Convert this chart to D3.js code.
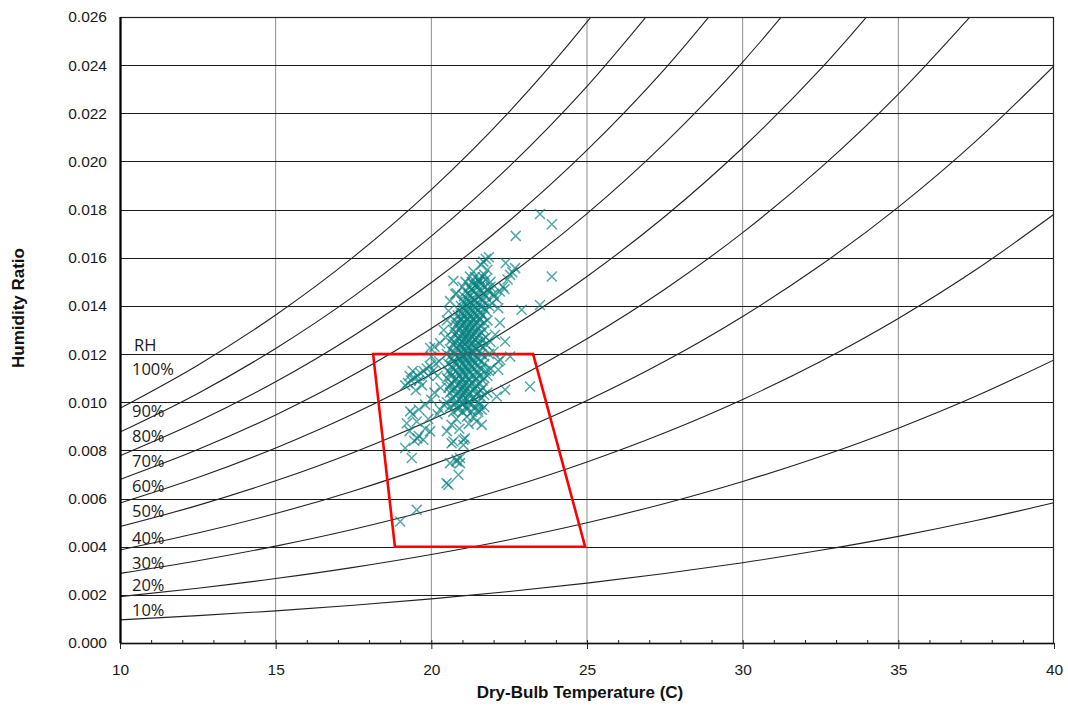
<!DOCTYPE html>
<html>
<head>
<meta charset="utf-8">
<script src="https://cdn.jsdelivr.net/npm/d3@7"></script>
<style>
  body { margin: 0; background: #fff; }
  svg { display: block; }
</style>
</head>
<body>
<svg id="chart"></svg>
<script>
// dry-bulb temperatures where the RH curves were read (C)
const tempSteps = [10, 12.5, 15, 17.5, 20, 22.5, 25, 27.5, 30, 32.5, 35, 37.5, 40]

// humidity ratio of each RH curve at tempSteps (curves stop once past the top)
const w10  = [0.000961, 0.001135, 0.001336, 0.001567, 0.001833, 0.002138, 0.002487, 0.002884, 0.003336, 0.003849, 0.004430, 0.005086, 0.005824]
const w20  = [0.001925, 0.002274, 0.002677, 0.003142, 0.003677, 0.004291, 0.004994, 0.005795, 0.006708, 0.007746, 0.008923, 0.010255, 0.011759]
const w30  = [0.002893, 0.003417, 0.004024, 0.004725, 0.005532, 0.006459, 0.007521, 0.008733, 0.010117, 0.011691, 0.013481, 0.015511, 0.017806]
const w40  = [0.003863, 0.004565, 0.005377, 0.006317, 0.007398, 0.008641, 0.010068, 0.011699, 0.013563, 0.015687, 0.018105, 0.020854, 0.023970]
const w50  = [0.004836, 0.005716, 0.006736, 0.007916, 0.009276, 0.010839, 0.012636, 0.014692, 0.017046, 0.019732, 0.022797, 0.026288]
const w60  = [0.005812, 0.006872, 0.008101, 0.009523, 0.011164, 0.013053, 0.015225, 0.017714, 0.020569, 0.023830, 0.027559]
const w70  = [0.006791, 0.008032, 0.009472, 0.011139, 0.013064, 0.015282, 0.017836, 0.020765, 0.024130, 0.027981]
const w80  = [0.007774, 0.009196, 0.010849, 0.012763, 0.014975, 0.017526, 0.020467, 0.023846, 0.027731]
const w90  = [0.008759, 0.010365, 0.012232, 0.014395, 0.016897, 0.019787, 0.023121, 0.026956]
const w100 = [0.009748, 0.011538, 0.013621, 0.016036, 0.018832, 0.022063, 0.025796, 0.030095]

const rhLabels = ["100%", "90%", "80%", "70%", "60%", "50%", "40%", "30%", "20%", "10%"]

// comfort zone corners [temp, humidity ratio]
const zoneCorners = [[18.13, 0.0120], [23.27, 0.0120], [24.94, 0.0040], [18.83, 0.0040]]

// measured readings [temp, humidity ratio]
const outerReadings = [
  [23.49,0.01782],[23.87,0.01739],[22.71,0.01691],[23.87,0.01522],[23.49,0.01404],[22.9,0.01384],
  [23.17,0.01065],[22.53,0.01529],[22.69,0.01557],[22.39,0.01578],[22.6,0.0154],[22.45,0.0151],
  [22.3,0.0148],[22.2,0.0146],[22.1,0.0143],[22.35,0.0147],[21.85,0.01602],[21.67,0.01584],
  [21.75,0.01595],[21.6,0.0157],[21.8,0.0155],[21.7,0.0153],[21.55,0.0151],[21.35,0.01543],
  [21.24,0.01522],[20.71,0.01504],[20.77,0.01449],[20.81,0.01453],[21.0,0.0148],[21.1,0.0150],
  [21.3,0.0147],[21.45,0.0149],[21.9,0.0148],[22.0,0.0145],[21.95,0.0141],[22.15,0.0139],
  [22.37,0.01252],[22.21,0.01176],[22.53,0.0119],[22.15,0.01135],[22.15,0.01169],[22.37,0.01052],
  [22.1,0.01024],[21.8,0.0111],[21.85,0.0113],[22.0,0.0121],[22.05,0.0128],[22.2,0.0133],
  [21.9,0.0125],[20.28,0.01245],[19.96,0.01225],[20.1,0.0123],[20.4,0.0130],[20.5,0.0134],
  [20.55,0.0138],[20.6,0.0142],[20.45,0.0127]
]
const leftReadings = [
  [19.16,0.0107],[19.25,0.0108],[19.35,0.0109],[19.45,0.0110],[19.3,0.0111],[19.55,0.0111],
  [19.65,0.0112],[19.75,0.0113],[19.6,0.0109],[19.85,0.0114],[19.95,0.0115],[20.05,0.0113],
  [20.15,0.0116],[20.25,0.0117],[19.9,0.0111],[19.7,0.0107],[20.0,0.0119],[19.5,0.0105],
  [20.2,0.0111],[19.4,0.0113],
  [19.32,0.00962],[19.21,0.00913],[19.53,0.0092],[19.4,0.0095],[19.6,0.0097],[19.8,0.0099],
  [20.0,0.0101],[20.1,0.0104],[20.3,0.0106],[20.28,0.00969],[20.4,0.0099],[20.2,0.0095],
  [19.9,0.0093],[19.16,0.0081],[19.37,0.00768],[19.74,0.00844],[19.96,0.00879],[19.6,0.0086],
  [19.8,0.0089],[19.3,0.0088],[19.45,0.0084],[19.55,0.0085],[20.65,0.00906],[20.71,0.00837],
  [21.03,0.00844],[20.81,0.00761],[20.92,0.00747],[21.62,0.00906],[21.62,0.00969],[21.14,0.0094],
  [21.35,0.0094],[20.65,0.0083],[21.03,0.00823],[21.08,0.0085],[20.6,0.00747],[20.81,0.00754],
  [20.92,0.00768],[20.87,0.00699],[20.55,0.00657],[20.49,0.00664],[19.53,0.00553],[19.0,0.00505],
  [20.5,0.0088],[20.9,0.0089],[21.2,0.0091],[21.45,0.0092],[20.8,0.0093],[21.5,0.0096]
]
const coreReadings = [
  [20.7,0.0096],[21.0,0.0096],[21.3,0.0096],
  [20.6,0.0098],[20.9,0.0098],[21.1,0.0098],[21.4,0.0098],[21.7,0.0098],
  [20.5,0.0100],[20.8,0.0100],[21.0,0.0100],[21.2,0.0100],[21.5,0.0100],
  [20.7,0.0102],[20.95,0.0102],[21.1,0.0102],[21.35,0.0102],[21.6,0.0102],
  [20.6,0.0104],[20.85,0.0104],[21.05,0.0104],[21.25,0.0104],[21.5,0.0104],[21.8,0.0104],
  [20.55,0.0106],[20.75,0.0106],[21.0,0.0106],[21.15,0.0106],[21.4,0.0106],[21.65,0.0106],
  [20.65,0.0108],[20.9,0.0108],[21.1,0.0108],[21.3,0.0108],[21.55,0.0108],
  [20.5,0.0110],[20.8,0.0110],[21.0,0.0110],[21.2,0.0110],[21.45,0.0110],[21.7,0.0110],
  [20.6,0.0112],[20.85,0.0112],[21.05,0.0112],[21.25,0.0112],[21.5,0.0112],
  [20.7,0.0114],[20.95,0.0114],[21.15,0.0114],[21.35,0.0114],[21.6,0.0114],[21.9,0.0114],
  [20.55,0.0116],[20.8,0.0116],[21.0,0.0116],[21.2,0.0116],[21.4,0.0116],[21.7,0.0116],
  [20.65,0.0118],[20.9,0.0118],[21.1,0.0118],[21.3,0.0118],[21.5,0.0118],
  [20.5,0.0120],[20.75,0.0120],[21.0,0.0120],[21.15,0.0120],[21.35,0.0120],[21.6,0.0120],[21.85,0.0120],
  [20.6,0.0122],[20.85,0.0122],[21.05,0.0122],[21.25,0.0122],[21.45,0.0122],
  [20.7,0.0124],[20.95,0.0124],[21.1,0.0124],[21.3,0.0124],[21.55,0.0124],[21.75,0.0124],
  [20.65,0.0126],[20.9,0.0126],[21.05,0.0126],[21.2,0.0126],[21.4,0.0126],[21.65,0.0126],
  [20.75,0.0128],[21.0,0.0128],[21.15,0.0128],[21.35,0.0128],[21.55,0.0128],
  [20.7,0.0130],[20.9,0.0130],[21.1,0.0130],[21.25,0.0130],[21.45,0.0130],[21.7,0.0130],
  [20.8,0.0132],[21.0,0.0132],[21.2,0.0132],[21.4,0.0132],[21.6,0.0132],
  [20.75,0.0134],[20.95,0.0134],[21.15,0.0134],[21.35,0.0134],[21.55,0.0134],[21.8,0.0134],
  [20.85,0.0136],[21.05,0.0136],[21.25,0.0136],[21.45,0.0136],[21.65,0.0136],
  [20.9,0.0138],[21.1,0.0138],[21.3,0.0138],[21.5,0.0138],[21.75,0.0138],
  [20.95,0.0140],[21.15,0.0140],[21.35,0.0140],[21.6,0.0140],[21.85,0.0140],
  [21.0,0.0142],[21.2,0.0142],[21.4,0.0142],[21.65,0.0142],
  [21.05,0.0144],[21.25,0.0144],[21.5,0.0144],[21.75,0.0144],[22.0,0.0144],
  [21.1,0.0146],[21.35,0.0146],[21.6,0.0146],[21.85,0.0146],
  [21.2,0.0148],[21.45,0.0148],[21.7,0.0148],
  [21.3,0.0150],[21.55,0.0150],[21.9,0.0150],
  [21.4,0.0152],[21.65,0.0152]
]
const coreReadingsB = [
  [20.85,0.0097],[21.15,0.0097],[21.5,0.0097],
  [20.75,0.0099],[21.0,0.0099],[21.25,0.0099],[21.55,0.0099],
  [20.65,0.0101],[20.9,0.0101],[21.15,0.0101],[21.4,0.0101],
  [20.8,0.0103],[21.0,0.0103],[21.2,0.0103],[21.45,0.0103],[21.7,0.0103],
  [20.7,0.0105],[20.95,0.0105],[21.1,0.0105],[21.35,0.0105],[21.6,0.0105],
  [20.6,0.0107],[20.85,0.0107],[21.05,0.0107],[21.25,0.0107],[21.45,0.0107],
  [20.75,0.0109],[21.0,0.0109],[21.2,0.0109],[21.4,0.0109],[21.65,0.0109],
  [20.65,0.0111],[20.9,0.0111],[21.1,0.0111],[21.35,0.0111],[21.55,0.0111],
  [20.55,0.0113],[20.8,0.0113],[21.0,0.0113],[21.2,0.0113],[21.45,0.0113],[21.75,0.0113],
  [20.65,0.0115],[20.9,0.0115],[21.1,0.0115],[21.3,0.0115],[21.5,0.0115],
  [20.7,0.0117],[20.95,0.0117],[21.15,0.0117],[21.35,0.0117],[21.6,0.0117],
  [20.6,0.0119],[20.85,0.0119],[21.05,0.0119],[21.25,0.0119],[21.45,0.0119],[21.7,0.0119],
  [20.7,0.0121],[20.95,0.0121],[21.1,0.0121],[21.3,0.0121],[21.55,0.0121],
  [20.8,0.0123],[21.0,0.0123],[21.2,0.0123],[21.4,0.0123],[21.65,0.0123],
  [20.75,0.0125],[21.0,0.0125],[21.15,0.0125],[21.35,0.0125],[21.5,0.0125],
  [20.85,0.0127],[21.1,0.0127],[21.3,0.0127],[21.45,0.0127],[21.75,0.0127],
  [20.8,0.0129],[21.05,0.0129],[21.2,0.0129],[21.4,0.0129],[21.6,0.0129],
  [20.9,0.0131],[21.1,0.0131],[21.3,0.0131],[21.5,0.0131],
  [20.85,0.0133],[21.05,0.0133],[21.25,0.0133],[21.45,0.0133],[21.7,0.0133],
  [20.95,0.0135],[21.15,0.0135],[21.35,0.0135],[21.55,0.0135],
  [21.0,0.0137],[21.2,0.0137],[21.4,0.0137],[21.6,0.0137],
  [21.05,0.0139],[21.25,0.0139],[21.45,0.0139],[21.7,0.0139],
  [21.1,0.0141],[21.3,0.0141],[21.5,0.0141],[21.75,0.0141],
  [21.15,0.0143],[21.35,0.0143],[21.6,0.0143],
  [21.2,0.0145],[21.45,0.0145],[21.7,0.0145],
  [21.3,0.0147],[21.55,0.0147],[21.8,0.0147],
  [21.35,0.0149],[21.6,0.0149],
  [21.5,0.0151],[21.75,0.0151]
]

const xTicks = [10, 15, 20, 25, 30, 35, 40]
const yTicks = d3.range(0, 0.0261, 0.002)

const width = 1068, height = 711
const plotL = 120, plotR = 1054, plotT = 17, plotB = 643

const svg = d3.select("#chart")
  .attr("width", width)
  .attr("height", height)

const x = d3.scaleLinear().domain([10, 40]).range([plotL, plotR])
const y = d3.scaleLinear().domain([0, 0.026]).range([plotB, plotT])

svg.append("defs").append("clipPath")
  .attr("id", "plotClip")
  .append("rect")
  .attr("x", plotL).attr("y", plotT)
  .attr("width", plotR - plotL).attr("height", plotB - plotT)

// vertical grid (grey) and horizontal grid (black)
svg.append("g")
  .selectAll("line")
  .data(xTicks.slice(1, -1))
  .enter().append("line")
  .attr("x1", d => x(d)).attr("x2", d => x(d))
  .attr("y1", plotT).attr("y2", plotB)
  .style("stroke", "#8c8c8c")
  .style("stroke-width", "1px")

svg.append("g")
  .selectAll("line")
  .data(yTicks.slice(1, -1))
  .enter().append("line")
  .attr("x1", plotL).attr("x2", plotR)
  .attr("y1", d => Math.round(y(d)) + 0.5).attr("y2", d => Math.round(y(d)) + 0.5)
  .style("stroke", "#1a1a1a")
  .style("stroke-width", "1.2px")

// RH curves
const curves = [w100, w90, w80, w70, w60, w50, w40, w30, w20, w10]
const curveLine = d3.line()
  .x((d, i) => x(tempSteps[i]))
  .y(d => y(d))
  .curve(d3.curveMonotoneX)

svg.append("g")
  .attr("clip-path", "url(#plotClip)")
  .selectAll("path")
  .data(curves)
  .enter().append("path")
  .attr("d", d => curveLine(d))
  .attr("fill", "none")
  .style("stroke", "#222")
  .style("stroke-width", "1.1px")

// comfort zone
svg.append("path")
  .attr("d", d3.line().x(d => x(d[0])).y(d => y(d[1]))(zoneCorners) + "Z")
  .attr("fill", "none")
  .style("stroke", "#ff0000")
  .style("stroke-width", "2.6px")

// readings as x marks
const allReadings = outerReadings.concat(leftReadings, coreReadings, coreReadingsB)
const s = 5
svg.append("g")
  .selectAll("path")
  .data(allReadings)
  .enter().append("path")
  .attr("d", d => {
    const px = x(d[0]), py = y(d[1])
    return "M" + (px - s) + "," + (py - s) + "L" + (px + s) + "," + (py + s) +
      "M" + (px - s) + "," + (py + s) + "L" + (px + s) + "," + (py - s)
  })
  .attr("fill", "none")
  .style("stroke", "#088282")
  .style("stroke-width", "1.5px")
  .style("stroke-opacity", "0.7")

// frame
svg.append("rect")
  .attr("x", plotL + 0.5).attr("y", plotT + 0.5)
  .attr("width", plotR - plotL - 1).attr("height", plotB - plotT)
  .attr("fill", "none")
  .style("stroke", "#222")
  .style("stroke-width", "1.2px")

svg.append("line")
  .attr("x1", plotL + 0.5).attr("x2", plotL + 0.5)
  .attr("y1", plotT).attr("y2", plotB)
  .style("stroke", "#000")
  .style("stroke-width", "2.2px")

// x axis: major ticks below, minor ticks inside
const xAxis = svg.append("g")
  .attr("transform", "translate(0," + plotB + ")")
  .call(d3.axisBottom(x).tickValues(xTicks).tickSize(6).tickFormat(d3.format("d")))
xAxis.select(".domain").remove()
xAxis.selectAll("line").style("stroke", "#222")
xAxis.selectAll("text")
  .attr("dy", "0")
  .attr("y", 32)
  .style("font-family", "'Liberation Sans', Arial, sans-serif")
  .style("font-size", "15.5px")
  .style("fill", "#1a1a1a")

svg.append("g")
  .attr("transform", "translate(0," + plotB + ")")
  .call(d3.axisBottom(x).tickValues(d3.range(11, 40)).tickSize(-3).tickFormat(""))
  .call(g => g.select(".domain").remove())
  .selectAll("line").style("stroke", "#222")

svg.append("line")
  .attr("x1", plotL).attr("x2", plotR)
  .attr("y1", plotB + 0.5).attr("y2", plotB + 0.5)
  .style("stroke", "#111")
  .style("stroke-width", "1.5px")

// y axis labels
const yAxis = svg.append("g")
  .attr("transform", "translate(" + plotL + ",0)")
  .call(d3.axisLeft(y).tickValues(yTicks).tickSize(0).tickPadding(13).tickFormat(d3.format(".3f")))
yAxis.select(".domain").remove()
yAxis.selectAll("text")
  .style("font-family", "'Liberation Sans', Arial, sans-serif")
  .style("font-size", "15.5px")
  .style("fill", "#1a1a1a")

// axis titles
svg.append("text")
  .attr("x", 580).attr("y", 698)
  .attr("text-anchor", "middle")
  .style("font-family", "'Liberation Sans', Arial, sans-serif")
  .style("font-weight", "bold")
  .style("font-size", "17px")
  .style("fill", "#111")
  .text("Dry-Bulb Temperature (C)")

svg.append("text")
  .attr("transform", "translate(24,308) rotate(-90)")
  .attr("text-anchor", "middle")
  .style("font-family", "'Liberation Sans', Arial, sans-serif")
  .style("font-weight", "bold")
  .style("font-size", "17px")
  .style("fill", "#111")
  .text("Humidity Ratio")

// RH labels at the left end of the curves
const labelBaseW = [0.01114, 0.00939, 0.00836, 0.00732, 0.00628, 0.00524, 0.00412, 0.00308, 0.00217, 0.00113]
const labelG = svg.append("g")
  .style("font-family", "'Open Sans', 'Noto Sans', sans-serif")
  .style("font-size", "16.5px")
  .style("fill", "#1a1a1a")

labelG.append("text")
  .attr("x", 134).attr("y", 351)
  .text("RH")

labelG.selectAll("text.rh")
  .data(rhLabels)
  .enter().append("text")
  .attr("class", "rh")
  .attr("x", 132)
  .attr("y", (d, i) => y(labelBaseW[i]))
  .text(d => d)
</script>
</body>
</html>
